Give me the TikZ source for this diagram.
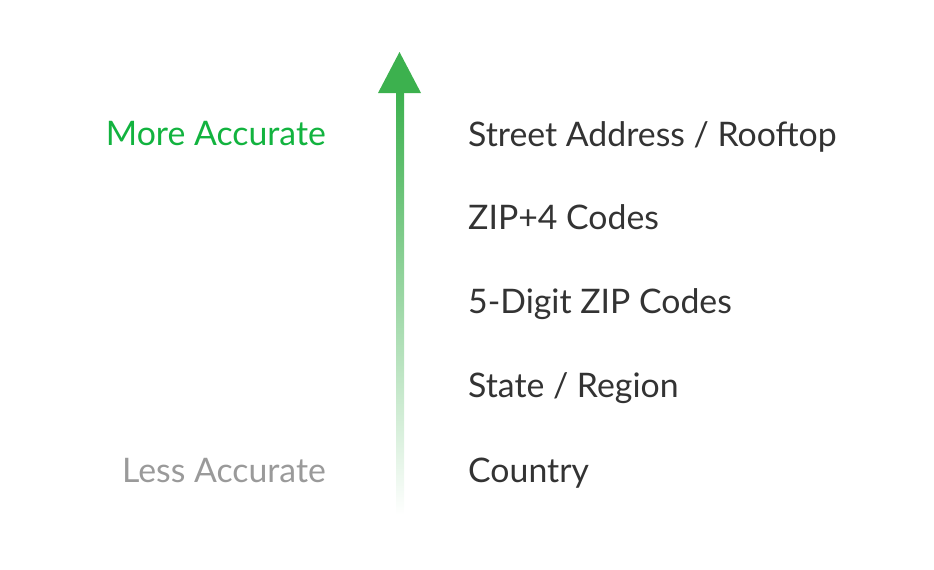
\documentclass[tikz,border=0pt]{standalone}
\usepackage{fontspec}
\setmainfont{Lato}
\definecolor{gmore}{HTML}{12B33F}
\definecolor{arrowg}{HTML}{3CB14E}
\definecolor{lessg}{HTML}{9A9A9A}
\definecolor{txt}{HTML}{333333}
\begin{document}
\begin{tikzpicture}[x=1pt,y=-1pt,
  item/.style={anchor=base west,inner sep=0pt,text=txt,font=\fontsize{33.8}{34}\selectfont},
  side/.style={anchor=base east,inner sep=0pt,font=\fontsize{33.8}{34}\selectfont}]
\useasboundingbox (0,0) rectangle (934,570);
\shade[top color=arrowg,bottom color=white,shading angle=0] (396,92) rectangle (404,515);
\fill[arrowg] (378,93) -- (399.5,52) -- (421,93) -- cycle;
\coordinate (tip) at (399.5,52);
\node[side,text=gmore] (more) at (326,145.5) {More Accurate};
\node[side,text=lessg] (less) at (326,482) {Less Accurate};
\node[item] (a) at (468,146) {Street Address / Rooftop};
\node[item] (b) at (468,229.5) {ZIP+4 Codes};
\node[item] (c) at (468,313.5) {5-Digit ZIP Codes};
\node[item] (d) at (468,397.5) {State / Region};
\node[item] (e) at (468,482) {Country};
\end{tikzpicture}
\end{document}
